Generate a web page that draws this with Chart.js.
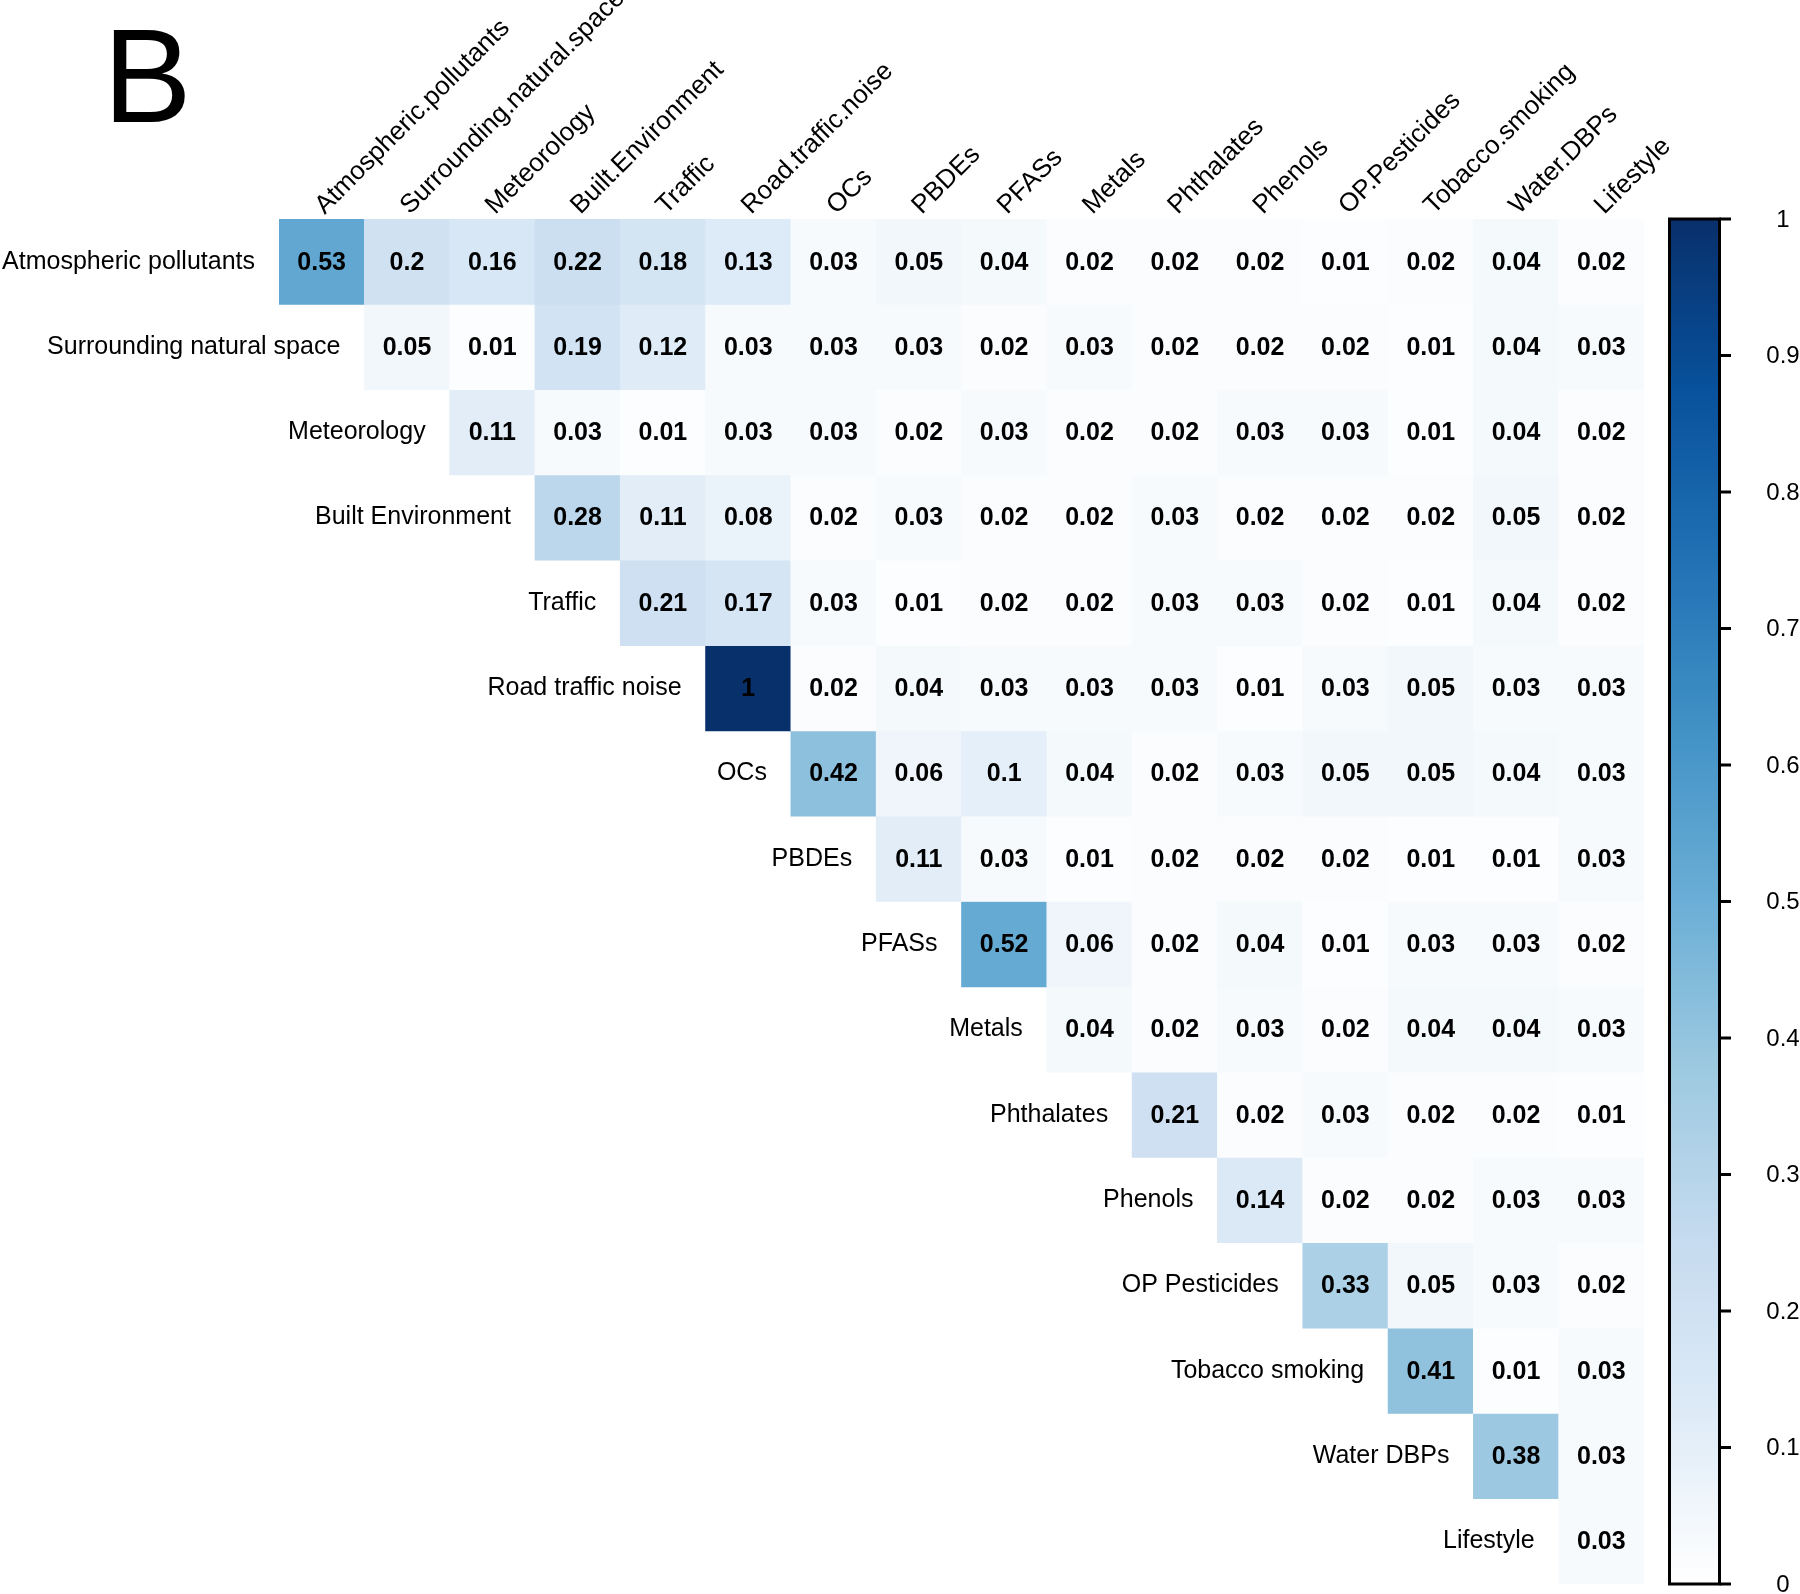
<!DOCTYPE html>
<html lang="en">
<head>
    <meta charset="UTF-8">
    <title>Exposure correlation heatmap</title>
    <script src="https://cdn.jsdelivr.net/npm/chart.js"></script>
    <style>
        body {
            margin: 0;
            padding: 0;
            background-color: #ffffff;
        }
        .chart-container {
            position: relative;
            width: 1800px;
            height: 1594px;
        }
    </style>
</head>
<body>
    <div class="chart-container">
        <canvas id="heatmap"></canvas>
    </div>

    <script>
        const rowLabels = ['Atmospheric pollutants', 'Surrounding natural space', 'Meteorology', 'Built Environment',
            'Traffic', 'Road traffic noise', 'OCs', 'PBDEs', 'PFASs', 'Metals', 'Phthalates', 'Phenols',
            'OP Pesticides', 'Tobacco smoking', 'Water DBPs', 'Lifestyle'];
        const colLabels = ['Atmospheric.pollutants', 'Surrounding.natural.space', 'Meteorology', 'Built.Environment',
            'Traffic', 'Road.traffic.noise', 'OCs', 'PBDEs', 'PFASs', 'Metals', 'Phthalates', 'Phenols',
            'OP.Pesticides', 'Tobacco.smoking', 'Water.DBPs', 'Lifestyle'];

        // upper triangle only: row i starts at column i
        const corrValues = [
            [0.53, 0.2, 0.16, 0.22, 0.18, 0.13, 0.03, 0.05, 0.04, 0.02, 0.02, 0.02, 0.01, 0.02, 0.04, 0.02],
            [0.05, 0.01, 0.19, 0.12, 0.03, 0.03, 0.03, 0.02, 0.03, 0.02, 0.02, 0.02, 0.01, 0.04, 0.03],
            [0.11, 0.03, 0.01, 0.03, 0.03, 0.02, 0.03, 0.02, 0.02, 0.03, 0.03, 0.01, 0.04, 0.02],
            [0.28, 0.11, 0.08, 0.02, 0.03, 0.02, 0.02, 0.03, 0.02, 0.02, 0.02, 0.05, 0.02],
            [0.21, 0.17, 0.03, 0.01, 0.02, 0.02, 0.03, 0.03, 0.02, 0.01, 0.04, 0.02],
            [1, 0.02, 0.04, 0.03, 0.03, 0.03, 0.01, 0.03, 0.05, 0.03, 0.03],
            [0.42, 0.06, 0.1, 0.04, 0.02, 0.03, 0.05, 0.05, 0.04, 0.03],
            [0.11, 0.03, 0.01, 0.02, 0.02, 0.02, 0.01, 0.01, 0.03],
            [0.52, 0.06, 0.02, 0.04, 0.01, 0.03, 0.03, 0.02],
            [0.04, 0.02, 0.03, 0.02, 0.04, 0.04, 0.03],
            [0.21, 0.02, 0.03, 0.02, 0.02, 0.01],
            [0.14, 0.02, 0.02, 0.03, 0.03],
            [0.33, 0.05, 0.03, 0.02],
            [0.41, 0.01, 0.03],
            [0.38, 0.03],
            [0.03]
        ];

        const legendTicks = [0, 0.1, 0.2, 0.3, 0.4, 0.5, 0.6, 0.7, 0.8, 0.9, 1];
        const legendTickLabels = ['0', '0.1', '0.2', '0.3', '0.4', '0.5', '0.6', '0.7', '0.8', '0.9', '1'];

        // white, then the Brewer Blues steps
        const blues = ['#FFFFFF', '#DEEBF7', '#C6DBEF', '#9ECAE1', '#6BAED6', '#4292C6', '#2171B5', '#08519C', '#08306B'];
        const fontFamily = '"Liberation Sans", Arial, sans-serif';

        function hexToRgb(hex) {
            return [1, 3, 5].map(k => parseInt(hex.slice(k, k + 2), 16));
        }

        // map 0..1 onto the ramp
        function blueFor(v) {
            const pos = Math.max(0, Math.min(1, v)) * (blues.length - 1);
            const k = Math.min(Math.floor(pos), blues.length - 2);
            const t = pos - k;
            const a = hexToRgb(blues[k]);
            const b = hexToRgb(blues[k + 1]);
            const c = a.map((ch, n) => Math.round(ch + (b[n] - ch) * t));
            return 'rgb(' + c.join(',') + ')';
        }

        const datasets = rowLabels.map((name, i) => ({
            label: name,
            data: colLabels.map((c, j) => j >= i ? [i, i + 1] : null),
            backgroundColor: colLabels.map((c, j) => j >= i ? blueFor(corrValues[i][j - i]) : 'rgba(0,0,0,0)'),
            borderWidth: 0,
            barPercentage: 1,
            categoryPercentage: 1,
            grouped: false
        }));

        const overlayPlugin = {
            id: 'overlay',
            afterDatasetsDraw(chart) {
                const ctx = chart.ctx;
                const area = chart.chartArea;
                const xScale = chart.scales.x;
                const yScale = chart.scales.y;
                const cell = (area.right - area.left) / colLabels.length;
                ctx.save();

                // numbers inside the cells
                ctx.fillStyle = '#000000';
                ctx.font = 'bold 25px ' + fontFamily;
                ctx.textAlign = 'center';
                ctx.textBaseline = 'middle';
                chart.data.datasets.forEach((ds, i) => {
                    chart.getDatasetMeta(i).data.forEach((bar, j) => {
                        if (j < i) return;
                        ctx.fillText(String(corrValues[i][j - i]), bar.x, (bar.y + bar.base) / 2 + 1);
                    });
                });

                // row labels, right aligned next to the diagonal
                ctx.font = '25px ' + fontFamily;
                ctx.textAlign = 'right';
                rowLabels.forEach((name, i) => {
                    const left = xScale.getPixelForValue(i) - cell / 2;
                    ctx.fillText(name, left - 24, yScale.getPixelForValue(i + 0.5));
                });

                // column labels at 45 degrees
                ctx.font = '26px ' + fontFamily;
                ctx.textAlign = 'left';
                ctx.textBaseline = 'alphabetic';
                colLabels.forEach((name, j) => {
                    ctx.save();
                    ctx.translate(xScale.getPixelForValue(j) + 3, area.top - 4);
                    ctx.rotate(-Math.PI / 4);
                    ctx.fillText(name, 0, 0);
                    ctx.restore();
                });

                // colour legend
                const barLeft = 1669.5, barRight = 1719.5;
                const grad = ctx.createLinearGradient(0, area.bottom, 0, area.top);
                blues.forEach((c, k) => grad.addColorStop(k / (blues.length - 1), c));
                ctx.fillStyle = grad;
                ctx.fillRect(barLeft, area.top, barRight - barLeft, area.bottom - area.top);
                ctx.strokeStyle = '#000000';
                ctx.lineWidth = 3;
                ctx.strokeRect(barLeft, area.top, barRight - barLeft, area.bottom - area.top);

                ctx.fillStyle = '#000000';
                ctx.font = '24px ' + fontFamily;
                ctx.textAlign = 'center';
                ctx.textBaseline = 'middle';
                legendTicks.forEach((v, k) => {
                    const ty = area.bottom - v * (area.bottom - area.top);
                    ctx.beginPath();
                    ctx.moveTo(barRight, ty);
                    ctx.lineTo(1731, ty);
                    ctx.stroke();
                    ctx.fillText(legendTickLabels[k], 1783, ty + 1);
                });

                // panel letter
                ctx.font = '133px ' + fontFamily;
                ctx.textAlign = 'left';
                ctx.textBaseline = 'alphabetic';
                ctx.fillText('B', 103, 122);

                ctx.restore();
            }
        };

        const heatCtx = document.getElementById('heatmap').getContext('2d');
        const heatmap = new Chart(heatCtx, {
            type: 'bar',
            data: {
                labels: colLabels,
                datasets: datasets
            },
            options: {
                responsive: true,
                maintainAspectRatio: false,
                animation: false,
                layout: {
                    padding: { left: 279, right: 156, top: 219, bottom: 10 }
                },
                plugins: {
                    legend: { display: false },
                    tooltip: { enabled: false }
                },
                scales: {
                    x: { display: false, offset: true, grid: { display: false } },
                    y: { display: false, min: 0, max: 16, reverse: true, grid: { display: false } }
                }
            },
            plugins: [overlayPlugin]
        });
    </script>
</body>
</html>
